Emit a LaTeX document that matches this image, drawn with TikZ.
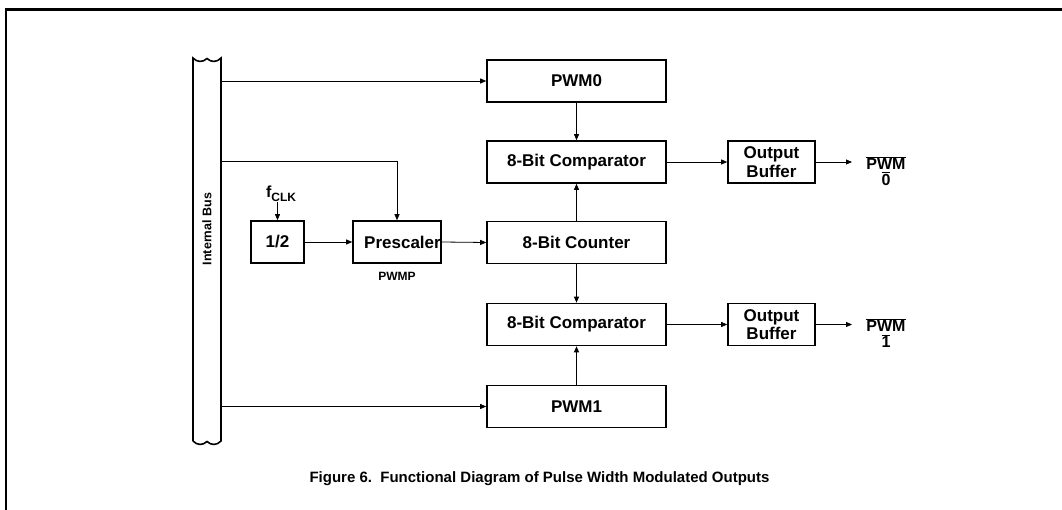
\documentclass[tikz,border=0pt]{standalone}
\usepackage{fontspec}
\setmainfont{Liberation Sans}
\usetikzlibrary{arrows.meta}
\tikzset{
  blk/.style={draw, line width=1.6pt, minimum height=42pt, inner sep=0pt,
              font=\fontsize{17}{18.5}\selectfont\bfseries, align=center},
  wide/.style={blk, minimum width=179pt},
  arr/.style={line width=0.8pt, -{Triangle[length=6pt,width=5pt]}},
  wire/.style={line width=0.8pt},
  small/.style={font=\fontsize{12}{12}\selectfont\bfseries, inner sep=0pt},
  outlbl/.style={font=\fontsize{16}{15}\selectfont\bfseries, inner sep=0pt, align=center}
}
\begin{document}
\begin{tikzpicture}[x=1pt,y=-1pt]
\useasboundingbox (0,0) rectangle (1062,510);
% page frame
\draw[line width=2.5pt] (6,510) -- (6,9.5) -- (1062,9.5);

% internal bus with broken ends
\node[minimum width=28pt, minimum height=381pt, inner sep=0pt] (bus) at (207,250) {};
\draw[line width=1.6pt]
  (193,441) -- (193,58)
  .. controls (197,62.5) and (203,62.5) .. (207,58.5)
  .. controls (211,62.5) and (217,62.5) .. (221,58)
  -- (221,441)
  .. controls (217,445.5) and (211,445.5) .. (207,441.5)
  .. controls (203,445.5) and (197,445.5) .. (193,441);
\node[small, font=\fontsize{12.5}{12.5}\selectfont\bfseries, rotate=90] (buslbl) at (207,229) {Internal Bus};

% main column
\node[wide] (pwm0)  at (576.5,81)  {PWM0};
\node[wide] (cmp0)  at (576.5,162) {8-Bit Comparator};
\node[wide] (cnt)   at (576.5,242.5) {8-Bit Counter};
\node[wide] (cmp1)  at (576.5,324.5) {8-Bit Comparator};
\node[wide] (pwm1)  at (576.5,406.5) {PWM1};

% output buffers
\node[blk, minimum width=87pt] (buf0) at (771.5,162) {Output\\Buffer};
\node[blk, minimum width=87pt] (buf1) at (771.5,324.5) {Output\\Buffer};

% clock path
\node[blk, minimum width=53pt] (half) at (277.5,242) {1/2};
\node[blk, minimum width=88pt, text width=88pt] (pre) at (397,242) {\hspace*{11pt}Prescaler};
\node[small] (pwmp) at (397,276) {PWMP};
\node[inner sep=0pt, anchor=base, font=\fontsize{16}{16}\selectfont\bfseries] (fclk) at (281,198)
  {f\raisebox{-4pt}{\fontsize{12}{12}\selectfont\bfseries CLK}};

% outputs
\node[outlbl, anchor=north] (out0) at (886,156) {$\overline{\mbox{PWM}}$\\[1pt]$\overline{\mbox{0}}$};
\node[outlbl, anchor=north] (out1) at (886,318.5) {$\overline{\mbox{PWM}}$\\[1pt]$\overline{\mbox{1}}$};
\coordinate (tip0) at (852,162);
\coordinate (tip1) at (852,324.5);

% bus taps
\coordinate (tapP) at (221,161);
\draw[arr] (pwm0.west -| bus.east) -- (pwm0.west);
\draw[arr] (pwm1.west -| bus.east) -- (pwm1.west);
\draw[arr] (tapP) -| (pre.north);

% clock chain
\draw[arr] (half.north |- fclk.south) -- (half.north);
\draw[arr] (half.east) -- (pre.west);
\draw[arr] (pre.east) -- (cnt.west);

% vertical data paths
\draw[arr] (pwm0.south) -- (cmp0.north);
\draw[arr] (cnt.north) -- (cmp0.south);
\draw[arr] (cnt.south) -- (cmp1.north);
\draw[arr] (pwm1.north) -- (cmp1.south);

% to output buffers and pins
\draw[arr] (cmp0.east) -- (buf0.west);
\draw[arr] (cmp1.east) -- (buf1.west);
\draw[arr] (buf0.east) -- (tip0);
\draw[arr] (buf1.east) -- (tip1);

% caption
\node[anchor=base, inner sep=0pt, font=\fontsize{15}{15}\selectfont\bfseries] (cap) at (539.5,482)
  {Figure 6.\ \ Functional Diagram of Pulse Width Modulated Outputs};
\end{tikzpicture}
\end{document}
